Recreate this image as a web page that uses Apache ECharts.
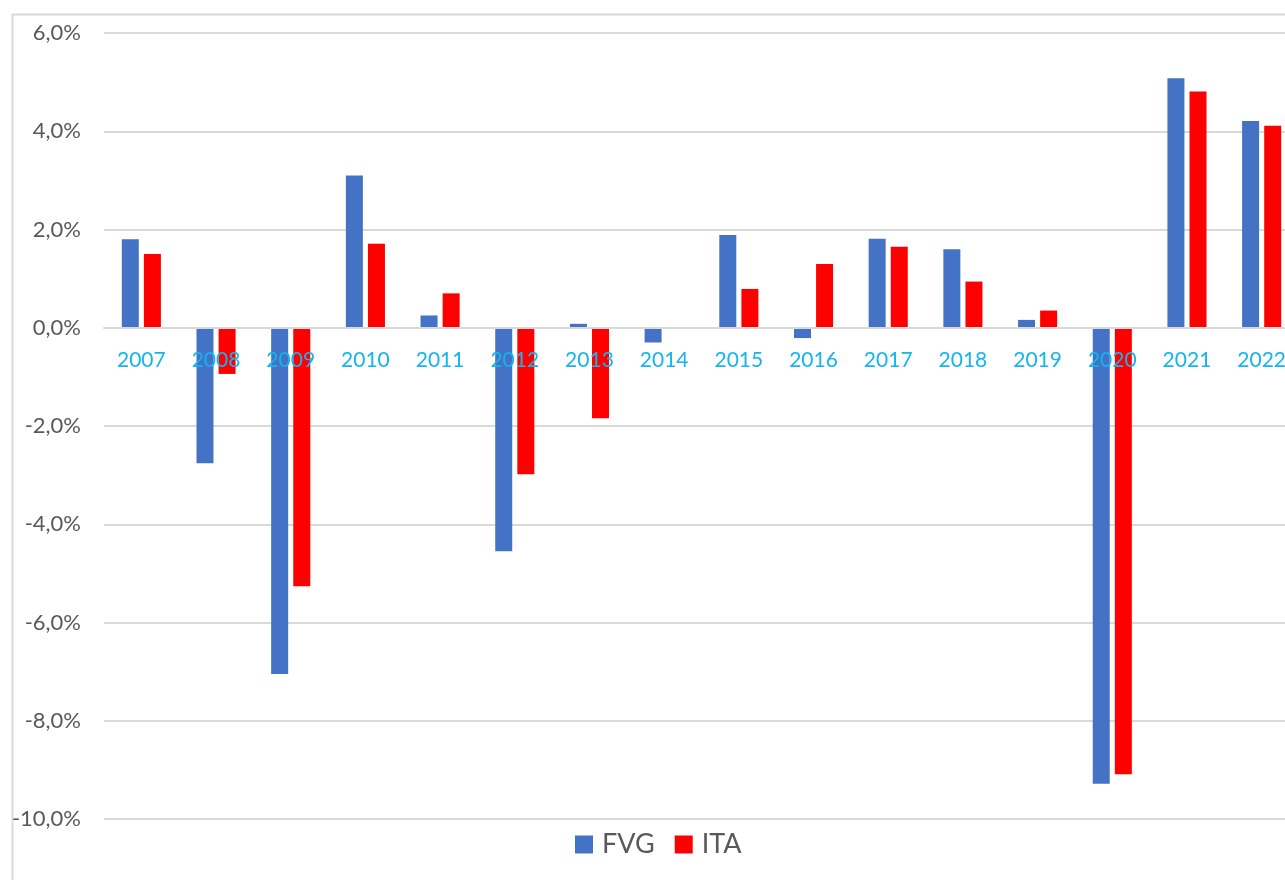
<!DOCTYPE html>
<html><head><meta charset="utf-8">
<script src="https://cdn.jsdelivr.net/npm/echarts@6/dist/echarts.min.js"></script>
<style>html,body{margin:0;padding:0;background:#fff;}#c{width:1285px;height:880px;}</style>
</head><body><div id="c"></div>
<script>
const categories = ['2007','2008','2009','2010','2011','2012','2013','2014','2015','2016','2017','2018','2019','2020','2021','2022'];
const fvg = [1.80, -2.76, -7.05, 3.10, 0.25, -4.55, 0.08, -0.30, 1.89, -0.21, 1.81, 1.60, 0.16, -9.28, 5.08, 4.21];
const ita = [1.50, -0.94, -5.26, 1.71, 0.70, -2.98, -1.84, 0.00, 0.79, 1.30, 1.65, 0.94, 0.35, -9.09, 4.81, 4.11];
const yTicks = {min: -10, max: 6, interval: 2};

const gridTop = 33, gridHeight = 786;
// distance from grid bottom up to the zero line, so category labels sit under y=0
const zeroOffset = gridHeight * (0 - yTicks.min) / (yTicks.max - yTicks.min);

const chart = echarts.init(document.getElementById('c'));
const fmt = v => v.toFixed(1).replace('.', ',') + '%';
chart.setOption({
  animation: false,
  textStyle: {fontFamily: 'Lato'},
  graphic: [{type: 'rect', left: 10, top: 12, shape: {width: 1400, height: 1000}, style: {fill: 'none', stroke: '#d9d9d9', lineWidth: 2}, z: -1}],
  grid: {left: 104, top: gridTop, width: 1195, height: gridHeight, containLabel: false, outerBoundsMode: 'none'},
  legend: {
    bottom: 22, left: 575, padding: 0, itemWidth: 18, itemHeight: 18, itemGap: 20,
    icon: 'rect',
    textStyle: {fontSize: 27, color: '#595959', fontFamily: 'Lato', padding: [0,0,0,4]},
    data: ['FVG', 'ITA']
  },
  xAxis: {
    type: 'category', data: categories, z: 10,
    offset: -zeroOffset,
    axisLine: {show: true, onZero: false, lineStyle: {color: '#d9d9d9', width: 2}},
    axisTick: {show: false},
    axisLabel: {color: '#14B4F0', fontSize: 21, margin: 22, fontFamily: 'Lato'},
    splitLine: {show: false}
  },
  yAxis: {
    type: 'value', min: yTicks.min, max: yTicks.max, interval: yTicks.interval,
    axisLine: {show: false}, axisTick: {show: false},
    axisLabel: {color: '#595959', fontSize: 22, margin: 23, formatter: fmt, fontFamily: 'Lato'},
    splitLine: {lineStyle: {color: '#d9d9d9', width: 2}}
  },
  series: [
    {name: 'FVG', type: 'bar', data: fvg, barWidth: 17, barGap: '30%', itemStyle: {color: '#4472C4'}},
    {name: 'ITA', type: 'bar', data: ita, barWidth: 17, barGap: '30%', itemStyle: {color: '#FF0000'}}
  ]
});
</script></body></html>
